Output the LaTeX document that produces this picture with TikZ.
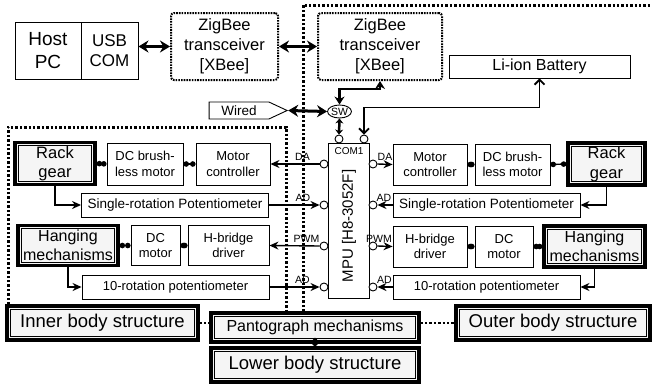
\documentclass[tikz,border=0pt]{standalone}
\usepackage{fontspec}
\setmainfont{Liberation Sans}
\usepackage{tikz}
\usetikzlibrary{arrows.meta,positioning,backgrounds,shapes.geometric,shapes.symbols}
\newcommand{\fsz}[2]{\fontsize{#1}{#2}\selectfont}
\tikzset{
  blkbox/.style={draw=black,line width=0.9pt,fill=white,inner sep=0pt,align=center,font=\fsz{13}{15.5}},
  mechbox/.style={draw=black,line width=3.2pt,fill=black!4,inner sep=0pt,align=center,font=\fsz{16.5}{19.5},
    path picture={\draw[line width=0.8pt] ([shift={(3.3pt,-3.3pt)}]path picture bounding box.north west)
      rectangle ([shift={(-3.3pt,3.3pt)}]path picture bounding box.south east);}},
  bodybox/.style={mechbox,font=\fsz{18.5}{20}},
  radiobox/.style={draw=black,line width=2pt,dash pattern=on 1.6pt off 1.1pt,rounded corners=3pt,
    inner sep=0pt,align=center,font=\fsz{16.5}{20}},
  potbox/.style={blkbox,minimum width=187pt,minimum height=24pt},
  portnode/.style={circle,draw=black,line width=0.9pt,fill=white,minimum size=8pt,inner sep=0pt},
  portlbl/.style={inner sep=0pt,font=\fsz{10.5}{11}},
  sigarr/.style={-{Stealth[length=9pt,width=8pt]},line width=1.4pt},
  linkdots/.style={{Circle[length=5.5pt]}-{Circle[length=5.5pt]},line width=1.4pt},
  busarr/.style={{Stealth[length=10pt,width=12pt]}-{Stealth[length=10pt,width=12pt]},line width=3pt},
  swarr/.style={{Stealth[length=8pt,width=10pt]}-{Stealth[length=8pt,width=10pt]},line width=2.5pt},
  pwrarr/.style={{Straight Barb[length=5pt,width=10pt]}-{Straight Barb[length=5pt,width=10pt]},line width=1.8pt},
  bodydots/.style={line width=3pt,dash pattern=on 2.4pt off 2pt},
}

\begin{document}
\begin{tikzpicture}[x=1pt,y=-1pt]
  \useasboundingbox (0,0) rectangle (652,388);
  % host side and radio link
  \node[blkbox,minimum width=66pt,minimum height=57pt,font=\fsz{19}{23}] (nHost) at (48,50.5) {Host\\PC};
  \node[blkbox,minimum width=57pt,minimum height=57pt,font=\fsz{17}{20}] (nUSB) at (109.5,50.5) {USB\\COM};
  \node[radiobox,minimum width=107pt,minimum height=67pt] (nZB1) at (224.5,46.5) {ZigBee\\transceiver\\{[XBee]}};
  \node[radiobox,minimum width=124pt,minimum height=67pt] (nZB2) at (380,46.5) {ZigBee\\transceiver\\{[XBee]}};
  \node[blkbox,minimum width=181pt,minimum height=23pt,font=\fsz{16}{18}] (nBatt) at (539.5,66.5) {Li-ion Battery};
  \node[blkbox,shape=signal,signal to=east,signal pointer angle=50,minimum width=78pt,minimum height=17pt,
    font=\fsz{13.5}{15}] (nWired) at (239,110.5) {Wired};
  \node[blkbox,ellipse,minimum width=23pt,minimum height=13pt,font=\fsz{10.5}{12}] (nSW) at (339.5,111.5) {SW};

  % controller
  \node[blkbox,minimum width=41pt,minimum height=155pt] (nMPU) at (348.5,220.5) {};
  \node[portlbl,font=\fsz{10}{11}] (tCOM) at (349,151) {COM1};
  \node[inner sep=0pt,rotate=90,font=\fsz{15}{17}] (tMPU) at (349,226) {MPU [H8-3052F]};
  \node[portnode] (pTop1) at (339,139) {};
  \node[portnode] (pTop2) at (364,139) {};
  \foreach \py/\pn in {164/1,205/2,246/3,287/4}{
    \node[portnode] (pL\pn) at (324,\py) {};
    \node[portnode] (pR\pn) at (373,\py) {};
  }
  \node[portlbl] (lL1) at (302.5,157) {DA};
  \node[portlbl] (lL2) at (303,198) {AD};
  \node[portlbl] (lL3) at (306.5,239) {PWM};
  \node[portlbl] (lL4) at (302.5,280) {AD};
  \node[portlbl] (lR1) at (385,157) {DA};
  \node[portlbl] (lR2) at (384,198) {AD};
  \node[portlbl] (lR3) at (379,239) {PWM};
  \node[portlbl] (lR4) at (384.5,280) {AD};

  % inner body side
  \node[mechbox,minimum width=80pt,minimum height=42pt] (nRackL) at (55,163.5) {Rack\\gear};
  \node[blkbox,minimum width=76pt,minimum height=42pt] (nBLL) at (145,164) {DC brush-\\less motor};
  \node[blkbox,minimum width=74pt,minimum height=42pt] (nMCL) at (233,164) {Motor\\controller};
  \node[potbox,font=\fsz{13.5}{15}] (nPotL) at (175,205) {Single-rotation Potentiometer};
  \node[mechbox,minimum width=100pt,minimum height=40pt,font=\fsz{16}{19}] (nHangL) at (68,245.5) {Hanging\\mechanisms};
  \node[blkbox,minimum width=49pt,minimum height=40pt] (nDCL) at (155.5,245.5) {DC\\motor};
  \node[blkbox,minimum width=81pt,minimum height=40pt] (nHBL) at (228.5,245.5) {H-bridge\\driver};
  \node[potbox] (nTenL) at (175.5,287) {10-rotation potentiometer};

  % outer body side
  \node[blkbox,minimum width=74pt,minimum height=41pt] (nMCR) at (430,164.5) {Motor\\controller};
  \node[blkbox,minimum width=75pt,minimum height=41pt] (nBLR) at (512.5,164.5) {DC brush-\\less motor};
  \node[mechbox,minimum width=77pt,minimum height=42pt] (nRackR) at (606.5,164) {Rack\\gear};
  \node[potbox,font=\fsz{13.5}{15}] (nPotR) at (486.5,205) {Single-rotation Potentiometer};
  \node[blkbox,minimum width=74pt,minimum height=41pt] (nHBR) at (430,246.5) {H-bridge\\driver};
  \node[blkbox,minimum width=58pt,minimum height=41pt] (nDCR) at (504,246.5) {DC\\motor};
  \node[mechbox,minimum width=101pt,minimum height=41pt,font=\fsz{16}{19}] (nHangR) at (594.5,246.5) {Hanging\\mechanisms};
  \node[potbox] (nTenR) at (486.5,287) {10-rotation potentiometer};

  % structures
  \node[bodybox,minimum width=191pt,minimum height=34pt] (nInner) at (102.5,323) {Inner body structure};
  \node[mechbox,minimum width=208pt,minimum height=29pt,font=\fsz{16}{18}] (nPanto) at (315,327.5) {Pantograph mechanisms};
  \node[bodybox,minimum width=208pt,minimum height=34pt] (nLower) at (315,365) {Lower body structure};
  \node[bodybox,minimum width=194pt,minimum height=34pt] (nOuter) at (553,323) {Outer body structure};

  % links
  \draw[busarr] (nUSB.east |- nZB1) -- (nZB1.west);
  \draw[busarr] (nZB1.east) -- (nZB2.west);
  \draw[busarr] (nWired.east) -- (nSW.west);
  \draw[swarr] (nZB2.south) -- ++(0,8) -| (nSW.north);
  \draw[swarr,{Stealth[length=5pt,width=8pt]}-{Stealth[length=5pt,width=8pt]}] (nSW.south) -- (pTop1.north);
  \draw[pwrarr] (nBatt.south) -- ++(0,29) -| (pTop2.north);

  \draw[linkdots] (nRackL.east) -- (nBLL.west);
  \draw[linkdots] (nBLL.east) -- (nMCL.west);
  \draw[sigarr] (pL1.west) -- (nMCL.east);
  \draw[sigarr] (nRackL.south) |- (nPotL.west);
  \draw[sigarr] (nPotL.east) -- (pL2.west);
  \draw[linkdots] (nHangL.east) -- (nDCL.west);
  \draw[linkdots] (nDCL.east) -- (nHBL.west);
  \draw[sigarr] (pL3.west) -- (nHBL.east);
  \draw[sigarr] (nHangL.south) |- (nTenL.west);
  \draw[sigarr] (nTenL.east) -- (pL4.west);

  \draw[sigarr] (pR1.east) -- (nMCR.west);
  \draw[linkdots] (nMCR.east) -- (nBLR.west);
  \draw[linkdots] (nBLR.east) -- (nRackR.west);
  \draw[sigarr] (nRackR.south) |- (nPotR.east);
  \draw[sigarr] (nPotR.west) -- (pR2.east);
  \draw[sigarr] (pR3.east) -- (nHBR.west);
  \draw[linkdots] (nHBR.east) -- (nDCR.west);
  \draw[linkdots] (nDCR.east) -- (nHangR.west);
  \draw[sigarr] (nHangR.south) |- (nTenR.east);
  \draw[sigarr] (nTenR.west) -- (pR4.east);

  \draw[linkdots,line width=3pt] (nPanto.south) -- (nLower.north);

  % body frames
  \coordinate (cInTL) at (8,127);
  \coordinate (cInTR) at (286,127);
  \coordinate (cOutTL) at (303,5);
  \coordinate (cOutTR) at (652,5);
  \draw[bodydots] (nInner.north -| cInTL) -- (cInTL) -- (cInTR) -- (cInTR |- nPanto.north);
  \draw[bodydots] (cOutTL |- nPanto.north) -- (cOutTL) -- (cOutTR);
  \draw[bodydots,line width=2.4pt] (nInner.east) -- (nInner.east -| nPanto.west);
  \draw[bodydots,line width=2.4pt] (nOuter.west -| nPanto.east) -- (nOuter.west);
\end{tikzpicture}
\end{document}
